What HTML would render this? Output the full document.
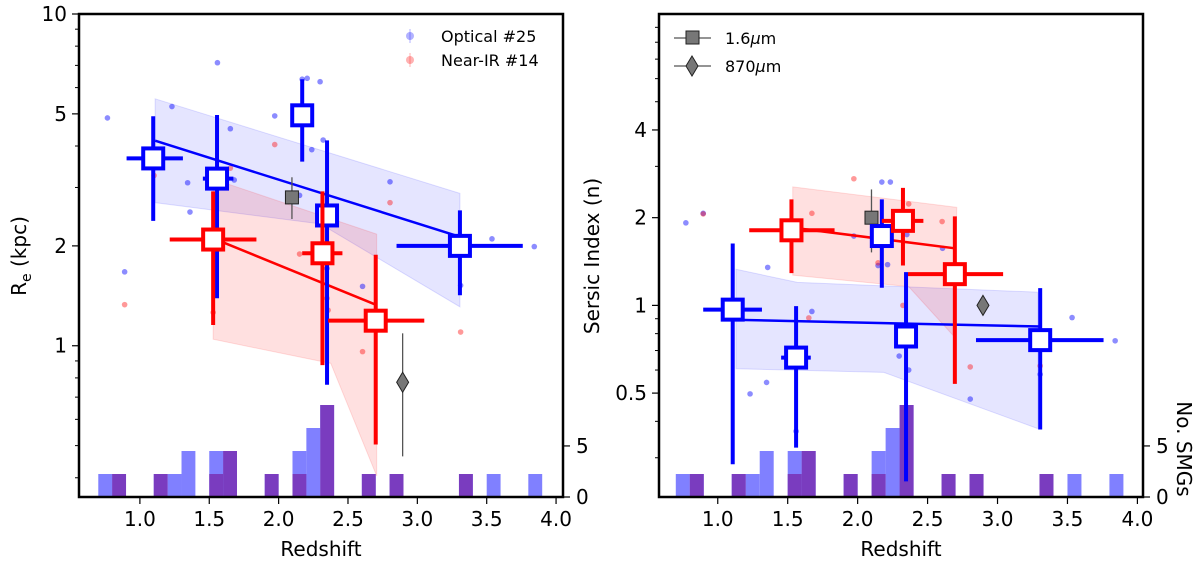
<!DOCTYPE html>
<html><head><meta charset="utf-8">
<style>
html,body{margin:0;padding:0;background:#fff;}
svg{display:block;font-family:"DejaVu Sans","Liberation Sans",sans-serif;}
</style></head>
<body>
<svg id="fig" width="1200" height="561" viewBox="0 0 1200 561" xmlns="http://www.w3.org/2000/svg"></svg>
<script>
// ---- shared histogram data (bin starts, width 0.1) ----
const histBins = [0.7,0.8,1.1,1.2,1.3,1.5,1.6,1.9,2.1,2.2,2.3,2.6,2.8,3.3,3.5,3.8];
const histOptical = [1,1,1,1,2,2,2,1,2,3,4,1,1,1,1,1];
const histNIR     = [0,1,1,0,0,1,2,1,1,0,4,1,1,1,0,0];
const xTicks = [1.0,1.5,2.0,2.5,3.0,3.5,4.0];
const xTickLabels = ["1.0","1.5","2.0","2.5","3.0","3.5","4.0"];

// ---- left panel: Re ----
const reBlueZ    = [1.096,1.556,2.17,2.349,3.307];
const reBlueR    = [3.67,3.19,4.95,2.47,2.0];
const reBlueZlo  = [0.904,1.454,2.17,2.349,2.85];
const reBlueZhi  = [1.31,1.674,2.17,2.349,3.76];
const reBlueRlo  = [2.38,1.39,3.59,0.763,1.42];
const reBlueRhi  = [4.92,4.96,6.36,4.16,2.56];
const reRedZ     = [1.528,2.316,2.70];
const reRedR     = [2.09,1.90,1.19];
const reRedZlo   = [1.215,2.17,2.357];
const reRedZhi   = [1.84,2.46,3.05];
const reRedRlo   = [1.155,0.874,0.504];
const reRedRhi   = [2.92,2.92,1.88];
const reBlueFitZ = [1.11,3.307];
const reBlueFitR = [4.15,2.13];
const reBlueBandZ = [1.11,3.307,3.307,2.3,1.11];
const reBlueBandR = [5.55,2.88,1.31,2.33,2.70];
const reRedFitZ  = [1.55,2.70];
const reRedFitR  = [2.09,1.33];
const reRedBandZ = [1.528,2.707,2.707,2.376,1.528];
const reRedBandR = [3.18,2.17,0.405,0.885,1.046];
const reDotsBlueZ = [0.766,1.231,1.559,1.652,1.344,1.361,0.890,1.680,1.972,2.170,2.206,2.299,2.239,2.321,2.151,2.803,2.605,3.538,3.843,3.312,2.349];
const reDotsBlueR = [4.86,5.26,7.13,4.51,3.10,2.53,1.67,3.16,4.93,6.36,6.40,6.25,3.90,4.17,2.84,3.12,1.51,2.10,1.99,1.52,1.71];
const reDotsRedZ = [0.890,1.102,1.652,1.972,2.151,2.803,2.605,3.312,2.349,2.357,1.528];
const reDotsRedR = [1.33,3.26,3.43,4.04,1.89,2.70,0.96,1.10,1.39,1.28,1.26];
const reSquare = {z:2.096, v:2.80, lo:2.41, hi:3.22};
const reDiamond = {z:2.894, v:0.776, lo:0.464, hi:1.09};

// ---- right panel: Sersic n ----
const nBlueZ    = [1.107,1.560,2.173,2.346,3.305];
const nBlueV    = [0.967,0.662,1.73,0.782,0.760];
const nBlueZlo  = [0.896,1.453,2.173,2.346,2.846];
const nBlueZhi  = [1.316,1.665,2.173,2.346,3.758];
const nBlueVlo  = [0.285,0.325,1.15,0.249,0.375];
const nBlueVhi  = [1.63,0.994,2.31,1.30,1.146];
const nRedZ     = [1.527,2.324,2.695];
const nRedV     = [1.81,1.95,1.28];
const nRedZlo   = [1.225,2.173,2.36];
const nRedZhi   = [1.835,2.47,3.04];
const nRedVlo   = [1.29,1.37,0.538];
const nRedVhi   = [2.31,2.53,2.02];
const nBlueFitZ = [1.107,3.305];
const nBlueFitV = [0.893,0.846];
const nBlueBandZ = [1.13,1.569,3.286,3.286,2.187,1.13];
const nBlueBandV = [1.33,1.20,1.11,0.378,0.589,0.606];
const nRedFitZ  = [1.527,2.695];
const nRedFitV  = [1.85,1.57];
const nRedBandZ = [1.536,2.709,2.681,2.365,1.536];
const nRedBandV = [2.55,2.17,0.79,1.16,1.27];
const nDotsBlueZ = [0.772,0.896,1.357,1.349,1.231,1.673,1.973,2.173,2.234,2.146,2.214,2.352,2.297,2.365,2.607,2.805,3.533,3.841,3.305,1.560];
const nDotsBlueV = [1.92,2.07,1.35,0.544,0.497,0.953,1.73,2.65,2.65,1.37,1.38,1.75,0.67,0.60,1.57,0.477,0.908,0.756,0.58,0.37];
const nDotsRedZ = [0.896,1.673,1.973,2.146,2.365,2.604,2.324,1.651,2.805,3.305,1.107];
const nDotsRedV = [2.06,2.07,2.72,1.40,2.23,1.94,1.0,0.906,0.615,0.62,1.03];
const nSquare = {z:2.099, v:2.0, lo:1.52, hi:2.5};
const nDiamond = {z:2.896, v:1.0, lo:0.97, hi:1.04};

const NS = "http://www.w3.org/2000/svg";
const svg = document.getElementById('fig');
function mk(tag, attrs, parent){
  const e = document.createElementNS(NS, tag);
  for (const k in attrs) e.setAttribute(k, attrs[k]);
  (parent||svg).appendChild(e);
  return e;
}

function panel(P){
  const g = mk('g', {});
  
  
  const X = z => P.x0 + (z - P.zmin) / (P.zmax - P.zmin) * (P.x1 - P.x0);
  const Y = v => P.y1 - (Math.log10(v) - Math.log10(P.vmin)) / (Math.log10(P.vmax) - Math.log10(P.vmin)) * (P.y1 - P.y0);
  const H = c => P.y1 - c * 23;

  histBins.forEach((b,i) => {
    if (histOptical[i] > 0) {
      const r = mk('rect', {x:X(b), y:H(histOptical[i]), width:X(b+0.1)-X(b), height:P.y1-H(histOptical[i]), fill:'#8080ff'}, g);
      
      
    }
  });
  histBins.forEach((b,i) => {
    if (histNIR[i] > 0) {
      const r = mk('rect', {x:X(b), y:H(histNIR[i]), width:X(b+0.1)-X(b), height:P.y1-H(histNIR[i]), fill:'#7a3cbf'}, g);
      
      
    }
  });

  const band = (zs, vs, fill, stroke, name) => {
    const p = mk('polygon', {points: zs.map((z,i)=>X(z)+','+Y(vs[i])).join(' '), fill:fill, stroke:stroke, 'stroke-width':1}, g);
    
    
  };
  band(P.blueBandZ, P.blueBandV, 'rgba(0,0,255,0.1)', 'rgba(0,0,255,0.12)', 'optical-confidence-band');
  band(P.redBandZ, P.redBandV, 'rgba(255,0,0,0.12)', 'rgba(255,0,0,0.12)', 'nir-confidence-band');

  P.dotsBlueZ.forEach((z,i) => {
    const c = mk('circle', {cx:X(z), cy:Y(P.dotsBlueV[i]), r:2.8, fill:'rgba(0,0,255,0.45)'}, g);
    
    
  });
  P.dotsRedZ.forEach((z,i) => {
    const c = mk('circle', {cx:X(z), cy:Y(P.dotsRedV[i]), r:2.8, fill:'rgba(255,0,0,0.4)'}, g);
    
    
  });

  const fit = (zs, vs, col, name) => {
    const l = mk('polyline', {points: zs.map((z,i)=>X(z)+','+Y(vs[i])).join(' '), fill:'none', stroke:col, 'stroke-width':2.5}, g);
    
    
  };
  fit(P.blueFitZ, P.blueFitV, '#0000ff', 'optical-fit-line');
  fit(P.redFitZ, P.redFitV, '#ff0000', 'nir-fit-line');

  const gs = P.square;
  const gl1 = mk('line', {x1:X(gs.z), x2:X(gs.z), y1:Y(gs.lo), y2:Y(gs.hi), stroke:'#555', 'stroke-width':1.3}, g);
  
  
  const gsq = mk('rect', {x:X(gs.z)-6.5, y:Y(gs.v)-6.5, width:13, height:13, fill:'#777', stroke:'#222', 'stroke-width':1}, g);
  
  
  const gd = P.diamond;
  const gl2 = mk('line', {x1:X(gd.z), x2:X(gd.z), y1:Y(gd.lo), y2:Y(gd.hi), stroke:'#555', 'stroke-width':1.3}, g);
  
  
  const dx = X(gd.z), dy = Y(gd.v);
  const gdm = mk('polygon', {points:`${dx},${dy-10} ${dx+6},${dy} ${dx},${dy+10} ${dx-6},${dy}`, fill:'#777', stroke:'#222', 'stroke-width':1}, g);
  
  

  const binned = (zs, vs, zlo, zhi, vlo, vhi, col, name) => {
    zs.forEach((z,i) => {
      const eg = mk('g', {}, g);
      
      
      mk('line', {x1:X(zlo[i]), x2:X(zhi[i]), y1:Y(vs[i]), y2:Y(vs[i]), stroke:col, 'stroke-width':4}, eg);
      mk('line', {x1:X(z), x2:X(z), y1:Y(vlo[i]), y2:Y(vhi[i]), stroke:col, 'stroke-width':4}, eg);
      mk('rect', {x:X(z)-10, y:Y(vs[i])-10, width:20, height:20, fill:'#fff', stroke:col, 'stroke-width':4}, eg);
    });
  };
  binned(P.blueZ, P.blueV, P.blueZlo, P.blueZhi, P.blueVlo, P.blueVhi, '#0000ff', 'optical-binned-median');
  binned(P.redZ, P.redV, P.redZlo, P.redZhi, P.redVlo, P.redVhi, '#ff0000', 'nir-binned-median');

  const fr = mk('rect', {x:P.x0, y:P.y0, width:P.x1-P.x0, height:P.y1-P.y0, fill:'none', stroke:'#000', 'stroke-width':2.5}, g);
  
  

  xTicks.forEach((t,i) => {
    mk('line', {x1:X(t), x2:X(t), y1:P.y1, y2:P.y1+7, stroke:'#000', 'stroke-width':1.2}, g);
    const tx = mk('text', {x:X(t), y:P.y1+29, 'font-size':20, 'text-anchor':'middle'}, g);
    tx.textContent = xTickLabels[i];
    
    
  });
  const xl = mk('text', {x:(P.x0+P.x1)/2, y:556, 'font-size':20, 'text-anchor':'middle'}, g);
  xl.textContent = 'Redshift';
  
  

  P.minorTicks.forEach(v => {
    mk('line', {x1:P.x0-4, x2:P.x0, y1:Y(v), y2:Y(v), stroke:'#000', 'stroke-width':1}, g);
  });
  P.majorTicks.forEach((v,i) => {
    mk('line', {x1:P.x0-7, x2:P.x0, y1:Y(v), y2:Y(v), stroke:'#000', 'stroke-width':1.2}, g);
    const ty = mk('text', {x:P.x0-12, y:Y(v)+7, 'font-size':20, 'text-anchor':'end'}, g);
    ty.textContent = P.majorLabels[i];
    
    
  });

  [[0,'0'],[2.22,'5']].forEach(([c,l]) => {
    mk('line', {x1:P.x1, x2:P.x1+7, y1:H(c), y2:H(c), stroke:'#000', 'stroke-width':1.2}, g);
    const t = mk('text', {x:P.x1+13, y:H(c)+7, 'font-size':20}, g);
    t.textContent = l;
    
    
  });
  return {X, Y};
}

panel({
  name:'size-panel', x0:79, x1:563, y0:14, y1:497, zmin:0.561, zmax:4.05, vmin:0.35, vmax:10,
  majorTicks:[10,5,2,1], majorLabels:['10','5','2','1'],
  minorTicks:[9,8,7,6,4,3,0.9,0.8,0.7,0.6,0.5,0.4],
  blueZ:reBlueZ, blueV:reBlueR, blueZlo:reBlueZlo, blueZhi:reBlueZhi, blueVlo:reBlueRlo, blueVhi:reBlueRhi,
  redZ:reRedZ, redV:reRedR, redZlo:reRedZlo, redZhi:reRedZhi, redVlo:reRedRlo, redVhi:reRedRhi,
  blueFitZ:reBlueFitZ, blueFitV:reBlueFitR, blueBandZ:reBlueBandZ, blueBandV:reBlueBandR,
  redFitZ:reRedFitZ, redFitV:reRedFitR, redBandZ:reRedBandZ, redBandV:reRedBandR,
  dotsBlueZ:reDotsBlueZ, dotsBlueV:reDotsBlueR, dotsRedZ:reDotsRedZ, dotsRedV:reDotsRedR,
  square:reSquare, diamond:reDiamond
});
panel({
  name:'sersic-panel', x0:659, x1:1143, y0:14, y1:497, zmin:0.58, zmax:4.04, vmin:0.22, vmax:10,
  majorTicks:[4,2,1,0.5], majorLabels:['4','2','1','0.5'],
  minorTicks:[9,8,7,6,5,3,0.9,0.8,0.7,0.6,0.4,0.3],
  blueZ:nBlueZ, blueV:nBlueV, blueZlo:nBlueZlo, blueZhi:nBlueZhi, blueVlo:nBlueVlo, blueVhi:nBlueVhi,
  redZ:nRedZ, redV:nRedV, redZlo:nRedZlo, redZhi:nRedZhi, redVlo:nRedVlo, redVhi:nRedVhi,
  blueFitZ:nBlueFitZ, blueFitV:nBlueFitV, blueBandZ:nBlueBandZ, blueBandV:nBlueBandV,
  redFitZ:nRedFitZ, redFitV:nRedFitV, redBandZ:nRedBandZ, redBandV:nRedBandV,
  dotsBlueZ:nDotsBlueZ, dotsBlueV:nDotsBlueV, dotsRedZ:nDotsRedZ, dotsRedV:nDotsRedV,
  square:nSquare, diamond:nDiamond
});
</script>
<svg style="position:absolute;left:0;top:0" width="1200" height="561">
  <text transform="translate(26,256) rotate(-90)" font-size="20" text-anchor="middle" font-family="DejaVu Sans, Liberation Sans, sans-serif">R<tspan font-size="14" dy="5">e</tspan><tspan dy="-5"> (kpc)</tspan></text>
  <text transform="translate(599,256) rotate(-90)" font-size="20" text-anchor="middle" font-family="DejaVu Sans, Liberation Sans, sans-serif">Sersic Index (n)</text>
  <text transform="translate(1177,449) rotate(90)" font-size="20" text-anchor="middle" font-family="DejaVu Sans, Liberation Sans, sans-serif">No. SMGs</text>
  <g>
    <line x1="410" y1="29" x2="410" y2="43" stroke="rgba(0,0,255,0.3)" stroke-width="1"/>
    <circle cx="410" cy="36" r="4" fill="rgba(0,0,255,0.3)"/>
    <text x="441" y="42" font-size="16" font-family="DejaVu Sans, Liberation Sans, sans-serif">Optical #25</text>
  </g>
  <g>
    <line x1="410" y1="53" x2="410" y2="67" stroke="rgba(255,0,0,0.3)" stroke-width="1"/>
    <circle cx="410" cy="60" r="4" fill="rgba(255,0,0,0.3)"/>
    <text x="441" y="66" font-size="16" font-family="DejaVu Sans, Liberation Sans, sans-serif">Near-IR #14</text>
  </g>
  <g>
    <line x1="674" y1="38" x2="711" y2="38" stroke="#555" stroke-width="1.3"/>
    <rect x="686" y="31" width="13" height="13" fill="#777" stroke="#222"/>
    <text x="725" y="44" font-size="16" font-family="DejaVu Sans, Liberation Sans, sans-serif">1.6<tspan font-style="italic">μ</tspan>m</text>
  </g>
  <g>
    <line x1="674" y1="66" x2="711" y2="66" stroke="#555" stroke-width="1.3"/>
    <polygon points="692,56 698,66 692,76 686,66" fill="#777" stroke="#222"/>
    <text x="725" y="72" font-size="16" font-family="DejaVu Sans, Liberation Sans, sans-serif">870<tspan font-style="italic">μ</tspan>m</text>
  </g>
</svg>
</body></html>
